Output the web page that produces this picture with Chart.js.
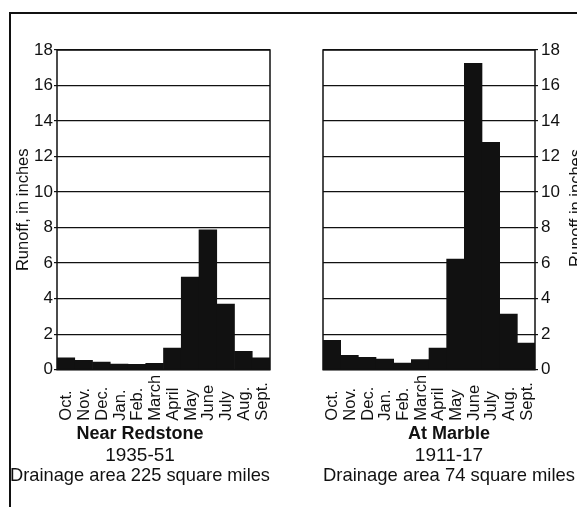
<!DOCTYPE html>
<html>
<head>
<meta charset="utf-8">
<script src="https://cdn.jsdelivr.net/npm/chart.js@4.4.1/dist/chart.umd.min.js"></script>
<style>
    html, body { margin: 0; padding: 0; background: #fff; overflow: hidden; width: 577px; height: 507px; }
    #frame { position: absolute; left: 9px; top: 12px; width: 600px; height: 600px; border-top: 2px solid #111; border-left: 2px solid #111; }
    canvas { position: absolute; }
    #redstone { left: 10px; top: 13px; }
    #marble { left: 293px; top: 13px; }
    #rightTitle {
        position: absolute; left: 496px; top: 198px; width: 160px; height: 20px;
        line-height: 20px; text-align: center; font: 16.5px 'Liberation Sans', Arial, sans-serif;
        color: #111; transform: rotate(-90deg);
    }
</style>
</head>
<body>
<div id="frame"></div>
<canvas id="redstone" width="275" height="494"></canvas>
<canvas id="marble" width="282" height="494"></canvas>
<div id="rightTitle">Runoff in inches</div>
<script>
const months = ['Oct.', 'Nov.', 'Dec.', 'Jan.', 'Feb.', 'March', 'April', 'May', 'June', 'July', 'Aug.', 'Sept.'];
// runoff, in inches
const redstoneRunoff = [0.66, 0.53, 0.43, 0.32, 0.30, 0.36, 1.22, 5.21, 7.87, 3.69, 1.03, 0.66];
const marbleRunoff = [1.65, 0.81, 0.69, 0.60, 0.37, 0.56, 1.22, 6.22, 17.25, 12.8, 3.13, 1.50];
const yMin = 0;
const yMax = 18;
const yStep = 2;

const FONT = "'Liberation Sans', Arial, sans-serif";
const INK = '#111';

// box round the plot area
const framePlugin = {
    id: 'frame',
    afterDraw(chart) {
        const a = chart.chartArea;
        const ctx = chart.ctx;
        ctx.save();
        ctx.strokeStyle = INK;
        ctx.lineWidth = 1.5;
        ctx.strokeRect(a.left, a.top, a.right - a.left, a.bottom - a.top);
        ctx.restore();
    }
};

// month names written upward, all starting on one line under the axis
const monthLabels = {
    id: 'monthLabels',
    afterDraw(chart) {
        const x = chart.scales.x;
        const ctx = chart.ctx;
        const baseY = chart.chartArea.bottom + 51;
        ctx.save();
        ctx.fillStyle = INK;
        ctx.font = '16.5px ' + FONT;
        ctx.textAlign = 'left';
        ctx.textBaseline = 'middle';
        chart.data.labels.forEach((label, i) => {
            ctx.save();
            ctx.translate(x.getPixelForValue(i) + 1, baseY);
            ctx.rotate(-Math.PI / 2);
            ctx.fillText(label, 0, 0);
            ctx.restore();
        });
        ctx.restore();
    }
};

function makeChart(id, values, side, name, years, area) {
    const isLeft = side === 'left';
    const ctx = document.getElementById(id).getContext('2d');
    return new Chart(ctx, {
        type: 'bar',
        data: {
            labels: months,
            datasets: [{
                data: values,
                backgroundColor: INK,
                borderWidth: 0,
                barPercentage: 1,
                categoryPercentage: 1
            }]
        },
        plugins: [framePlugin, monthLabels],
        options: {
            responsive: false,
            animation: false,
            events: [],
            layout: {
                padding: isLeft
                    ? { top: 37, left: 0, right: 15, bottom: 22 }
                    : { top: 37, left: 30, right: 0, bottom: 22 }
            },
            plugins: {
                legend: { display: false },
                tooltip: { enabled: false },
                title: {
                    display: true,
                    position: 'bottom',
                    weight: 1000,
                    text: name,
                    color: INK,
                    font: { family: FONT, size: 18, weight: 'bold', lineHeight: 1.2 },
                    padding: { top: 0, bottom: 0 }
                },
                subtitle: {
                    display: true,
                    position: 'bottom',
                    weight: 1500,
                    text: [years, area],
                    color: INK,
                    font: { family: FONT, size: 19, lineHeight: 1.02 },
                    padding: { top: 1, bottom: 0 }
                }
            },
            scales: {
                x: {
                    ticks: { display: false },
                    grid: { display: false },
                    border: { display: false },
                    afterFit(scale) {
                        scale.height = 54;
                        scale.paddingLeft = 0;
                        scale.paddingRight = 0;
                    }
                },
                y: {
                    position: side,
                    min: yMin,
                    max: yMax,
                    ticks: {
                        stepSize: yStep,
                        color: INK,
                        padding: isLeft ? 1 : 3,
                        font: { family: FONT, size: 17 }
                    },
                    grid: {
                        color: INK,
                        lineWidth: 1.2,
                        drawTicks: true,
                        tickLength: 3,
                        tickColor: INK
                    },
                    border: { display: false },
                    title: {
                        display: isLeft,
                        text: 'Runoff, in inches',
                        color: INK,
                        font: { family: FONT, size: 16.5 },
                        padding: { top: 4, bottom: 0 }
                    },
                    afterFit(scale) {
                        scale.width = isLeft ? 47 : 40;
                        scale.paddingTop = 0;
                        scale.paddingBottom = 0;
                    }
                }
            }
        }
    });
}

makeChart('redstone', redstoneRunoff, 'left', 'Near Redstone', '1935-51', 'Drainage area 225 square miles');
makeChart('marble', marbleRunoff, 'right', 'At Marble', '1911-17', 'Drainage area 74 square miles');
</script>
</body>
</html>
